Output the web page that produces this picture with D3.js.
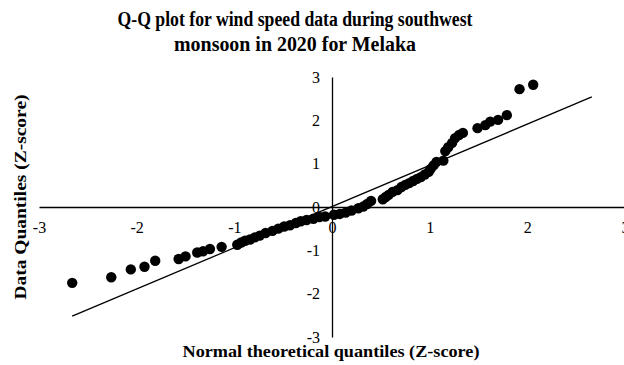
<!DOCTYPE html>
<html>
<head>
<meta charset="utf-8">
<script src="https://cdn.jsdelivr.net/npm/d3@7"></script>
<style>
  body { margin: 0; background: #fff; }
  text { font-family: "Liberation Serif", "Times New Roman", serif; fill: #000; }
</style>
</head>
<body>
<div id="chart"></div>
<script>
// theoretical normal quantiles (x) and standardized data quantiles (y)
const theoretical = [-2.66, -2.26, -2.06, -1.92, -1.81, -1.57, -1.50, -1.38, -1.32, -1.25,
  -1.13, -0.97, -0.93, -0.89, -0.84, -0.79, -0.74, -0.68, -0.61, -0.55,
  -0.49, -0.43, -0.37, -0.32, -0.26, -0.19, -0.13, -0.07, 0.02, 0.08,
  0.14, 0.20, 0.27, 0.32, 0.36, 0.40, 0.52, 0.55, 0.58, 0.62,
  0.67, 0.71, 0.75, 0.79, 0.83, 0.87, 0.91, 0.95, 0.99, 1.01,
  1.04, 1.07, 1.14, 1.16, 1.19, 1.23, 1.26, 1.30, 1.34, 1.49,
  1.57, 1.62, 1.70, 1.79, 1.92, 2.06];
const observed = [-1.75, -1.62, -1.44, -1.38, -1.24, -1.20, -1.14, -1.05, -1.02, -0.97,
  -0.92, -0.87, -0.82, -0.78, -0.75, -0.70, -0.66, -0.60, -0.55, -0.50,
  -0.45, -0.42, -0.37, -0.33, -0.30, -0.27, -0.23, -0.22, -0.18, -0.16,
  -0.13, -0.08, -0.03, 0.01, 0.07, 0.14, 0.18, 0.23, 0.28, 0.35,
  0.39, 0.46, 0.51, 0.55, 0.60, 0.65, 0.69, 0.75, 0.81, 0.88,
  0.96, 1.04, 1.07, 1.29, 1.38, 1.48, 1.59, 1.66, 1.71, 1.82,
  1.89, 1.97, 2.01, 2.12, 2.72, 2.82];

// reference line
const refX = [-2.66, 2.66];
const refY = [-2.52, 2.54];

const xTicks = [-3, -2, -1, 0, 1, 2, 3];
const yTicks = [-3, -2, -1, 0, 1, 2, 3];

const width = 624, height = 365;

const x = d3.scaleLinear().domain([-3, 3]).range([39, 625]);
const y = d3.scaleLinear().domain([-3, 3]).range([337, 77]);

const svg = d3.select('#chart').append('svg')
    .attr('width', width)
    .attr('height', height);

// title (squeezed a bit, like the original)
const titleLines = [
  { text: 'Q-Q plot for wind speed data during southwest', y: 26, len: 355 },
  { text: 'monsoon in 2020 for Melaka', y: 51, len: 242 }
];
svg.selectAll('text.title')
    .data(titleLines)
    .join('text')
    .attr('class', 'title')
    .attr('x', 295)
    .attr('y', d => d.y)
    .attr('text-anchor', 'middle')
    .attr('font-size', '20px')
    .attr('font-weight', 'bold')
    .attr('textLength', d => d.len)
    .attr('lengthAdjust', 'spacingAndGlyphs')
    .text(d => d.text);

// plain hyphen for negatives, like Excel
const fmt = d => String(d);

// x axis through y = 0
const xAxis = svg.append('g')
    .attr('transform', `translate(0,${y(0)})`)
    .call(d3.axisBottom(x).tickValues(xTicks).tickSize(0).tickPadding(15).tickFormat(fmt));
xAxis.select('.domain').attr('stroke', '#000').attr('stroke-width', 1.3);
xAxis.selectAll('text')
    .attr('font-family', '"Liberation Serif", serif')
    .attr('font-size', '16px');

// y axis through x = 0
const yAxis = svg.append('g')
    .attr('transform', `translate(${x(0)},0)`)
    .call(d3.axisLeft(y).tickValues(yTicks).tickSize(0).tickPadding(12).tickFormat(fmt));
yAxis.select('.domain').attr('stroke', '#000').attr('stroke-width', 1.3);
yAxis.selectAll('text')
    .attr('font-family', '"Liberation Serif", serif')
    .attr('font-size', '16px');

// reference line
svg.append('line')
    .attr('x1', x(refX[0])).attr('y1', y(refY[0]))
    .attr('x2', x(refX[1])).attr('y2', y(refY[1]))
    .attr('stroke', '#000')
    .attr('stroke-width', 1.3);

// points
svg.append('g')
    .selectAll('circle')
    .data(d3.zip(theoretical, observed))
    .join('circle')
    .attr('cx', d => x(d[0]))
    .attr('cy', d => y(d[1]))
    .attr('r', 5.2)
    .attr('fill', '#000');

// axis titles
svg.append('text')
    .attr('x', 331)
    .attr('y', 357)
    .attr('text-anchor', 'middle')
    .attr('font-size', '17px')
    .attr('font-weight', 'bold')
    .attr('textLength', 297)
    .attr('lengthAdjust', 'spacingAndGlyphs')
    .text('Normal theoretical quantiles (Z-score)');

svg.append('text')
    .attr('transform', 'rotate(-90)')
    .attr('x', -197)
    .attr('y', 26)
    .attr('text-anchor', 'middle')
    .attr('font-size', '17px')
    .attr('font-weight', 'bold')
    .attr('textLength', 205)
    .attr('lengthAdjust', 'spacingAndGlyphs')
    .text('Data Quantiles (Z-score)');
</script>
</body>
</html>
